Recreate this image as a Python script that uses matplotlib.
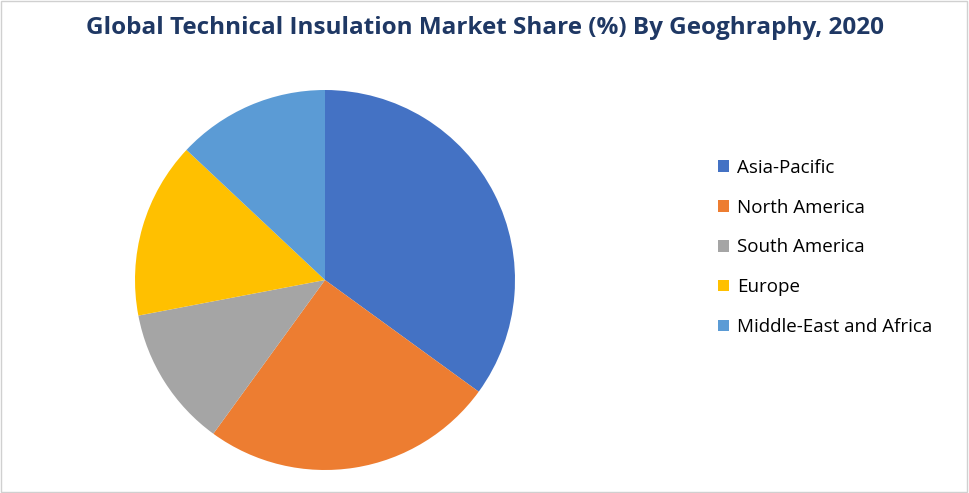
import matplotlib.pyplot as plt
from matplotlib.patches import Rectangle

regions = ["Asia-Pacific", "North America", "South America", "Europe", "Middle-East and Africa"]
shares = [35, 25, 12, 15, 13]
colors = ["#4472C4", "#ED7D31", "#A5A5A5", "#FFC000", "#5B9BD5"]

fig = plt.figure(figsize=(9.69, 4.93), dpi=100)
fig.patches.append(Rectangle((0.001, 0.002), 0.997, 0.995, transform=fig.transFigure,
                             fill=False, edgecolor="#D0D0D0", linewidth=1))

# pie axes: center ~ (325, 280) px, radius ~190 px
ax = fig.add_axes([(325 - 190) / 969, (493 - 280 - 190) / 493, 380 / 969, 380 / 493])
wedges, _ = ax.pie(shares, colors=colors, startangle=90, counterclock=False,
                   wedgeprops=dict(linewidth=0))
ax.set_xlim(-1, 1)
ax.set_ylim(-1, 1)
ax.set_aspect("equal")

fig.text(0.5, 0.943, "Global Technical Insulation Market Share (%) By Geoghraphy, 2020",
         ha="center", va="center", fontsize=17.5, fontweight="bold", color="#1F3864",
         family="Open Sans")

fig.legend(wedges, regions, loc="center left", bbox_to_anchor=(0.724, 0.498),
           frameon=False, handlelength=0.55, handleheight=0.55,
           handletextpad=0.45, labelspacing=1.17, prop={"family": "Open Sans", "size": 13.5})

fig.savefig("out.png", dpi=100)
